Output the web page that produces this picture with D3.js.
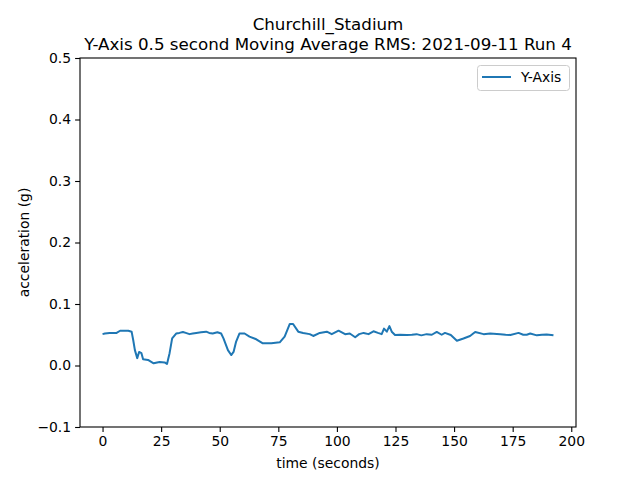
<!DOCTYPE html>
<html>
<head>
<meta charset="utf-8">
<script src="https://cdn.jsdelivr.net/npm/d3@7"></script>
<style>
  body { margin: 0; background: #fff; }
  svg { font-family: "DejaVu Sans", sans-serif; }
</style>
</head>
<body>
<svg id="chart" width="640" height="480"></svg>
<script>
const titleLines = ["Churchill_Stadium", "Y-Axis 0.5 second Moving Average RMS: 2021-09-11 Run 4"];
const seriesName = "Y-Axis";
const xTicks = [0, 25, 50, 75, 100, 125, 150, 175, 200];
const yTicks = [-0.1, 0.0, 0.1, 0.2, 0.3, 0.4, 0.5];

const time = [0, 1, 3, 6, 7.5, 9, 11, 12.4, 13.1, 13.8, 14.8, 15.6, 16.6, 17.3, 19.4, 21.8, 24.3, 26.5, 27.5, 28.6,
	29.7, 31.4, 32.8, 34.3, 35.5, 37.1, 38.5, 40, 42, 44.2, 45.5, 47, 49, 50.6, 51.6, 53.5, 54.9, 55.9, 57, 58.4,
	60.6, 62.7, 65.6, 68.4, 72, 75.6, 77.7, 79.9, 81.3, 83.5, 85.6, 88.4, 89.9, 92.7, 95.7, 97.8, 100.7, 103.5, 105.5, 107.8,
	109.5, 111.4, 113.5, 115.6, 117.5, 119.1, 120.1, 121.3, 122.4, 123.4, 124.8, 127, 129.8, 132, 134, 136, 138.3, 140.5, 142.6, 144.7,
	146.1, 148.6, 151.2, 154, 156.8, 159, 162.6, 165.4, 169.7, 172, 174, 177.5, 179.5, 181, 182.5, 185.3, 187.5, 189.5, 192.4];

const yAxisRms = [0.051, 0.052, 0.053, 0.053, 0.0565, 0.0565, 0.0565, 0.055, 0.041, 0.025, 0.012, 0.022, 0.020, 0.010, 0.009, 0.0035, 0.0057, 0.005, 0.0024, 0.020,
	0.044, 0.052, 0.053, 0.0545, 0.053, 0.051, 0.052, 0.053, 0.054, 0.055, 0.053, 0.052, 0.054, 0.052, 0.044, 0.025, 0.017, 0.022, 0.039, 0.052,
	0.052, 0.047, 0.0426, 0.036, 0.036, 0.0377, 0.047, 0.0675, 0.0675, 0.055, 0.053, 0.051, 0.048, 0.053, 0.055, 0.051, 0.0566, 0.051, 0.052, 0.046,
	0.051, 0.053, 0.051, 0.0556, 0.053, 0.051, 0.060, 0.055, 0.064, 0.055, 0.0496, 0.050, 0.0496, 0.050, 0.051, 0.049, 0.051, 0.050, 0.0545, 0.050,
	0.053, 0.0496, 0.0403, 0.044, 0.048, 0.0545, 0.051, 0.052, 0.051, 0.050, 0.0496, 0.053, 0.050, 0.050, 0.052, 0.049, 0.050, 0.0505, 0.049];

const plotLeft = 80, plotRight = 576, plotTop = 58, plotBottom = 427;
const lineColor = "#1f77b4";

const svg = d3.select("#chart");

// matplotlib-style 5% margins around the data range
const xMin = d3.min(time), xMax = d3.max(time);
const pad = (xMax - xMin) * 0.05;
const x = d3.scaleLinear().domain([xMin - pad, xMax + pad]).range([plotLeft, plotRight]);
const y = d3.scaleLinear().domain([-0.1, 0.5]).range([plotBottom, plotTop]);

// Draw the data line.
const points = time.map((t, i) => [t, yAxisRms[i]]);
svg.append("path")
	.datum(points)
	.attr("fill", "none")
	.attr("stroke", lineColor)
	.attr("stroke-width", 2)
	.attr("stroke-linejoin", "round")
	.attr("d", d3.line().x(d => x(d[0])).y(d => y(d[1])));

// Axes
const xAxis = svg.append("g")
	.attr("transform", `translate(0,${plotBottom})`)
	.call(d3.axisBottom(x).tickValues(xTicks).tickSize(4.9).tickPadding(4).tickFormat(d3.format("d")));
const yAxis = svg.append("g")
	.attr("transform", `translate(${plotLeft},0)`)
	.call(d3.axisLeft(y).tickValues(yTicks).tickSize(4.9).tickPadding(4)
		.tickFormat(d => d3.format(".1f")(d).replace("-", "\u2212")));

[xAxis, yAxis].forEach(g => {
	g.select(".domain").remove();
	g.selectAll(".tick line").attr("stroke", "#000").attr("stroke-width", 1.1);
	g.selectAll(".tick text").attr("fill", "#000").style("font-size", "13.9px").style("font-family", "DejaVu Sans");
});

// Frame
svg.append("rect")
	.attr("x", plotLeft).attr("y", plotTop)
	.attr("width", plotRight - plotLeft).attr("height", plotBottom - plotTop)
	.attr("fill", "none").attr("stroke", "#000").attr("stroke-width", 1.1);

// Labels
svg.append("text")
	.attr("x", (plotLeft + plotRight) / 2).attr("y", 468)
	.attr("text-anchor", "middle").style("font-size", "13.9px")
	.text("time (seconds)");

svg.append("text")
	.attr("transform", `translate(29,${(plotTop + plotBottom) / 2}) rotate(-90)`)
	.attr("text-anchor", "middle").style("font-size", "13.9px")
	.text("acceleration (g)");

// Two-line title
titleLines.forEach((line, i) => {
	svg.append("text")
		.attr("x", (plotLeft + plotRight) / 2)
		.attr("y", 30 + i * 19.5)
		.attr("text-anchor", "middle").style("font-size", "16.7px")
		.text(line);
});

// Legend
const legend = svg.append("g");
legend.append("rect")
	.attr("x", 477.5).attr("y", 65.5).attr("width", 92).attr("height", 25).attr("rx", 3)
	.attr("fill", "#fff").attr("stroke", "#ccc").attr("stroke-width", 1);
legend.append("line")
	.attr("x1", 482).attr("x2", 511).attr("y1", 77).attr("y2", 77)
	.attr("stroke", lineColor).attr("stroke-width", 2);
legend.append("text")
	.attr("x", 521).attr("y", 82).style("font-size", "13.9px")
	.text(seriesName);
</script>
</body>
</html>
